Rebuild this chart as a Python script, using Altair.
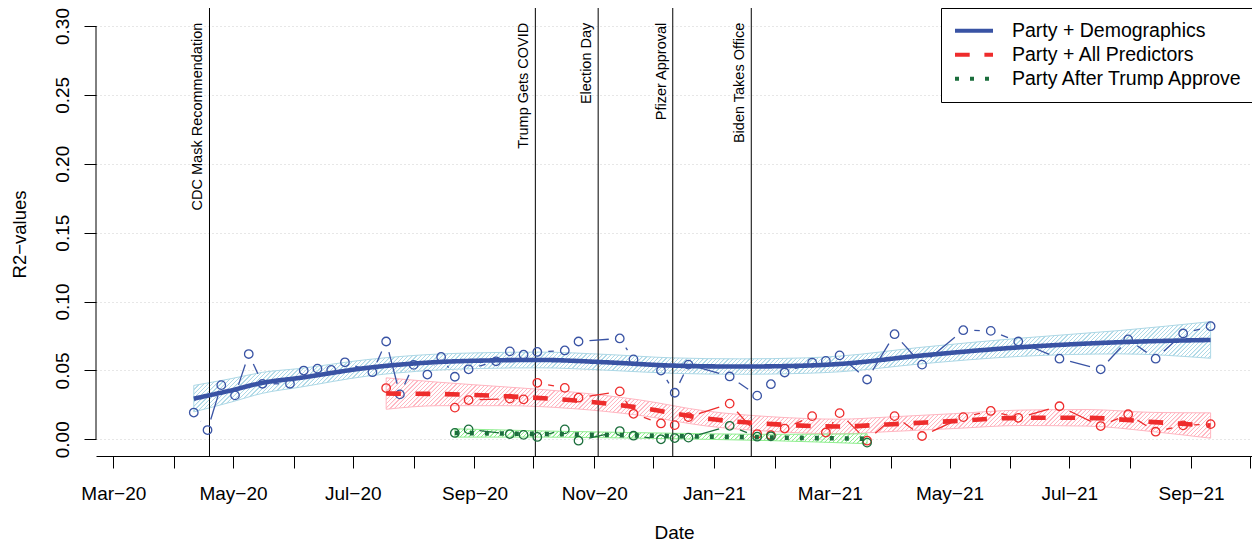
import math
import altair as alt
import pandas as pd

# ---------------- data ----------------
SERIES = ["Party + Demographics", "Party + All Predictors", "Party After Trump Approve"]

BLUE_DATES = [
    "2020-04-11", "2020-04-18", "2020-04-25", "2020-05-02", "2020-05-09", "2020-05-16",
    "2020-05-30", "2020-06-06", "2020-06-13", "2020-06-20", "2020-06-27", "2020-07-11",
    "2020-07-18", "2020-07-25", "2020-08-01", "2020-08-08", "2020-08-15", "2020-08-22",
    "2020-08-29", "2020-09-12", "2020-09-19", "2020-09-26", "2020-10-03", "2020-10-17",
    "2020-10-24", "2020-11-14", "2020-11-21", "2020-12-05", "2020-12-12", "2020-12-19",
    "2021-01-09", "2021-01-23", "2021-01-30", "2021-02-06", "2021-02-20", "2021-02-27",
    "2021-03-06", "2021-03-20", "2021-04-03", "2021-04-17", "2021-05-08", "2021-05-22",
    "2021-06-05", "2021-06-26", "2021-07-17", "2021-07-31", "2021-08-14", "2021-08-28",
    "2021-09-11",
]
BLUE_VALUES = [
    0.0194, 0.0067, 0.0393, 0.0319, 0.0619, 0.0403,
    0.0403, 0.0499, 0.0513, 0.0504, 0.0559, 0.0487,
    0.0710, 0.0326, 0.0540, 0.0470, 0.0598, 0.0454,
    0.0508, 0.0566, 0.0638, 0.0614, 0.0634, 0.0645,
    0.0710, 0.0732, 0.0580, 0.0499, 0.0338, 0.0542,
    0.0456, 0.0317, 0.0400, 0.0485, 0.0557, 0.0569,
    0.0609, 0.0434, 0.0763, 0.0542, 0.0792, 0.0787,
    0.0710, 0.0585, 0.0508, 0.0725, 0.0585, 0.0768,
    0.0821,
]

RED_DATES = [
    "2020-07-18", "2020-07-25", "2020-08-22", "2020-08-29", "2020-09-19", "2020-09-26",
    "2020-10-03", "2020-10-17", "2020-10-24", "2020-11-14", "2020-11-21", "2020-12-05",
    "2020-12-12", "2020-12-19", "2021-01-09", "2021-01-23", "2021-01-30", "2021-02-06",
    "2021-02-20", "2021-02-27", "2021-03-06", "2021-03-20", "2021-04-03", "2021-04-17",
    "2021-05-08", "2021-05-22", "2021-06-05", "2021-06-26", "2021-07-17", "2021-07-31",
    "2021-08-14", "2021-08-28", "2021-09-11",
]
RED_VALUES = [
    0.0372, None, 0.0230, 0.0285, 0.0295, 0.0290,
    0.0410, 0.0373, 0.0302, 0.0348, 0.0185, 0.0115,
    0.0103, 0.0161, 0.0259, 0.0038, 0.0030, 0.0078,
    0.0168, 0.0049, 0.0190, -0.0010, 0.0168, 0.0024,
    0.0161, 0.0206, 0.0156, 0.0240, 0.0096, 0.0182,
    0.0055, 0.0101, 0.0110,
]

GREEN_DATES = [
    "2020-08-22", "2020-08-29", "2020-09-19", "2020-09-26", "2020-10-03", "2020-10-17",
    "2020-10-24", "2020-11-14", "2020-11-21", "2020-12-05", "2020-12-12", "2020-12-19",
    "2021-01-09", "2021-01-23", "2021-01-30", "2021-02-06", "2021-03-20",
]
GREEN_VALUES = [
    0.0046, 0.0072, 0.0038, 0.0032, 0.0017, 0.0072,
    -0.0010, 0.0060, 0.0026, 0.0000, 0.0009, 0.0012,
    0.0098, 0.0019, 0.0022, None, -0.0024,
]

# smoothed trends with half-width of the confidence band
BLUE_TREND_DATES = [
    "2020-04-11", "2020-04-30", "2020-05-16", "2020-06-04", "2020-07-08", "2020-08-11",
    "2020-09-04", "2020-10-04", "2020-11-07", "2020-12-11", "2021-01-14", "2021-02-17",
    "2021-03-06", "2021-04-16", "2021-06-06", "2021-07-27", "2021-09-11",
]
BLUE_TREND = [
    0.0295, 0.0355, 0.0410, 0.0446, 0.0518, 0.0559,
    0.0571, 0.0576, 0.0559, 0.0535, 0.0528, 0.0535,
    0.0547, 0.0607, 0.0668, 0.0705, 0.0721,
]
BLUE_HALF = [
    0.0096, 0.0085, 0.0076, 0.0068, 0.0060, 0.0058,
    0.0057, 0.0057, 0.0057, 0.0056, 0.0056, 0.0056,
    0.0057, 0.0060, 0.0066, 0.0085, 0.0133,
]

RED_TREND_DATES = [
    "2020-07-18", "2020-08-14", "2020-09-17", "2020-10-21", "2020-11-24", "2020-12-28",
    "2021-01-31", "2021-03-06", "2021-03-30", "2021-05-03", "2021-06-06", "2021-07-10",
    "2021-08-13", "2021-09-11",
]
RED_TREND = [
    0.0332, 0.0329, 0.0312, 0.0283, 0.0230, 0.0151,
    0.0110, 0.0093, 0.0108, 0.0132, 0.0156, 0.0156,
    0.0125, 0.0100,
]
RED_HALF = [
    0.0114, 0.0085, 0.0068, 0.0060, 0.0056, 0.0054,
    0.0053, 0.0053, 0.0053, 0.0054, 0.0056, 0.0060,
    0.0070, 0.0092,
]

GREEN_TREND_DATES = ["2020-08-22", "2020-10-07", "2020-11-24", "2020-12-28", "2021-01-31", "2021-03-20"]
GREEN_TREND = [0.0046, 0.0038, 0.0028, 0.0020, 0.0013, 0.0004]
GREEN_HALF = [0.0030, 0.0022, 0.0020, 0.0020, 0.0023, 0.0036]

EVENT_DATES = ["2020-04-19", "2020-10-02", "2020-11-03", "2020-12-11", "2021-01-20"]
EVENT_LABELS = ["CDC Mask Recommendation", "Trump Gets COVID", "Election Day",
                "Pfizer Approval", "Biden Takes Office"]

Y_TICKS = [0.00, 0.05, 0.10, 0.15, 0.20, 0.25, 0.30]
X_TICK_DATES = [d.strftime("%Y-%m-%d") for d in pd.date_range("2020-03-01", "2021-10-01", freq="MS")]

# ---------------- style / layout ----------------
FONT = "Liberation Sans"
PLOT_W, PLOT_H = 1156, 448
BASE = pd.Timestamp("2020-03-01")
X_START = BASE - pd.Timedelta(days=8.813)
X_END = BASE + pd.Timedelta(days=580.08)
Y_MIN, Y_MAX = -0.01212, 0.31306

COLORS = ["#3953A4", "#EE2C2C", "#1B6E3C"]
BAND_COLORS = ["#ADD8E6", "#FFB6C1", "#90EE90"]
DASHES = [[1, 0], [14.7, 14.7], [4, 11]]
SEG_GAP = 11.0


def ms(d):
    return int(pd.Timestamp(d).value // 10**6)


PX_PER_MS = PLOT_W / (ms(X_END) - ms(X_START))
PX_PER_UNIT = PLOT_H / (Y_MAX - Y_MIN)

x_scale = alt.Scale(type="utc", domain=[ms(X_START), ms(X_END)])
y_scale = alt.Scale(domain=[Y_MIN, Y_MAX], nice=False, zero=False)

x_axis = alt.Axis(
    values=[ms(d) for d in X_TICK_DATES],
    labelExpr="utcmonth(datum.value) % 2 == 0 ? utcFormat(datum.value, '%b') + '\u2212' + utcFormat(datum.value, '%y') : ''",
    grid=False, tickSize=12, tickColor="black", tickWidth=1,
    domainColor="black", domainWidth=1,
    labelFontSize=19, labelColor="black", labelFont=FONT,
    labelBaseline="alphabetic", labelPadding=31, labelFlush=False, labelOverlap=False,
    title="Date", titleFontSize=19, titleFontWeight="normal", titleColor="black", titleFont=FONT,
    titleX=PLOT_W / 2, titleY=82, titleBaseline="alphabetic", titleAlign="center",
)
y_axis = alt.Axis(
    values=Y_TICKS, format=".2f", domain=False,
    grid=True, gridDash=[1, 3], gridColor="#cfcfcf", gridWidth=1,
    tickSize=12, tickColor="black", tickWidth=1,
    labelFontSize=19, labelColor="black", labelFont=FONT,
    labelAngle=270, labelAlign="center", labelBaseline="alphabetic", labelPadding=16,
    labelFlush=False, labelOverlap=False,
    title="R2\u2212values", titleFontSize=18.5, titleFontWeight="normal", titleColor="black", titleFont=FONT,
    titleAngle=270, titleX=-71, titleY=226, titleAlign="center", titleBaseline="alphabetic",
)


def X(field):
    return alt.X(field, type="temporal", scale=x_scale, axis=x_axis, title="Date")


def Y(field):
    return alt.Y(field, type="quantitative", scale=y_scale, axis=y_axis, title="R2\u2212values")


def hatch_gradient(color, w_px, h_px, period=4.2, thick=1.0, ramp=0.4):
    r = h_px / w_px
    k = (1 + r) / (1 + r * r)
    total = w_px + h_px
    clear = "rgba(255,255,255,0)"
    stops = []
    p = 0.0
    while p < total:
        a = p / total
        b = min((p + ramp) / total, 1.0)
        c = min((p + ramp + thick) / total, 1.0)
        d = min((p + 2 * ramp + thick) / total, 1.0)
        stops += [(a, clear), (b, color), (c, color), (d, clear)]
        p += period
    return alt.LinearGradient(
        gradient="linear", x1=0, y1=0, x2=k, y2=k * r,
        stops=[alt.GradientStop(offset=round(o, 6), color=col) for o, col in stops],
    )


def points_df(dates, values):
    rows = [{"date": ms(d), "value": v} for d, v in zip(dates, values) if v is not None]
    return pd.DataFrame(rows)


def segments_df(dates, values):
    rows = []
    for i in range(len(dates) - 1):
        v1, v2 = values[i], values[i + 1]
        if v1 is None or v2 is None:
            continue
        t1, t2 = ms(dates[i]), ms(dates[i + 1])
        dx = (t2 - t1) * PX_PER_MS
        dy = (v2 - v1) * PX_PER_UNIT
        L = math.hypot(dx, dy)
        if L <= 2 * SEG_GAP:
            continue
        f = SEG_GAP / L
        rows.append({"x": t1 + (t2 - t1) * f, "x2": t2 - (t2 - t1) * f,
                     "y": v1 + (v2 - v1) * f, "y2": v2 - (v2 - v1) * f})
    return pd.DataFrame(rows)


def trend_df(name, dates, vals, half):
    return pd.DataFrame({
        "series": name,
        "date": [ms(d) for d in dates],
        "value": vals,
        "lower": [v - h for v, h in zip(vals, half)],
        "upper": [v + h for v, h in zip(vals, half)],
    })


trends = [
    trend_df(SERIES[0], BLUE_TREND_DATES, BLUE_TREND, BLUE_HALF),
    trend_df(SERIES[1], RED_TREND_DATES, RED_TREND, RED_HALF),
    trend_df(SERIES[2], GREEN_TREND_DATES, GREEN_TREND, GREEN_HALF),
]
raw = [(BLUE_DATES, BLUE_VALUES), (RED_DATES, RED_VALUES), (GREEN_DATES, GREEN_VALUES)]

layers = []

# confidence bands with hatching
for i, tdf in enumerate(trends):
    w_px = (tdf["date"].max() - tdf["date"].min()) * PX_PER_MS
    h_px = (tdf["upper"].max() - tdf["lower"].min()) * PX_PER_UNIT
    grad = hatch_gradient(BAND_COLORS[i], w_px, h_px)
    layers.append(
        alt.Chart(tdf).mark_area(interpolate="monotone", fill=grad, stroke=BAND_COLORS[i], strokeWidth=1)
        .encode(x=X("date"), y=Y("lower"), y2="upper")
    )

events = pd.DataFrame({"date": [ms(d) for d in EVENT_DATES], "label": EVENT_LABELS})
layers.append(alt.Chart(events).mark_rule(color="black", strokeWidth=1).encode(x=X("date")))

# y axis line (from 0.00 to 0.30 only)
layers.append(
    alt.Chart(pd.DataFrame({"k": [0]})).mark_rule(color="black", strokeWidth=1)
    .encode(x=alt.value(0), y=alt.datum(Y_TICKS[0]), y2=alt.datum(Y_TICKS[-1]))
)

# connecting segments and open circles
for i, (dates, vals) in enumerate(raw):
    seg = segments_df(dates, vals)
    layers.append(
        alt.Chart(seg).mark_rule(color=COLORS[i], strokeWidth=1.3)
        .encode(x=X("x"), x2="x2", y=Y("y"), y2="y2")
    )
    layers.append(
        alt.Chart(points_df(dates, vals)).mark_point(shape="circle", filled=False, size=72,
                                                     strokeWidth=1.3, color=COLORS[i], opacity=1)
        .encode(x=X("date"), y=Y("value"))
    )

legend = alt.Legend(
    title=None, orient="none", legendX=845, legendY=0, direction="vertical",
    symbolType="stroke", symbolSize=1444, symbolStrokeWidth=4,
    labelFontSize=19.5, labelFont=FONT, labelColor="black", labelLimit=400, labelOffset=17,
    padding=12, rowPadding=2, clipHeight=21.7,
    strokeColor="black", fillColor="white",
)
trend_all = pd.concat(trends, ignore_index=True)
layers.append(
    alt.Chart(trend_all).mark_line(strokeWidth=4.6, interpolate="monotone")
    .encode(
        x=X("date"), y=Y("value"),
        color=alt.Color("series:N", scale=alt.Scale(domain=SERIES, range=COLORS), legend=legend),
        strokeDash=alt.StrokeDash("series:N", scale=alt.Scale(domain=SERIES, range=DASHES), legend=legend),
    )
)

layers.append(
    alt.Chart(events).mark_text(angle=270, align="right", baseline="alphabetic", dx=3.3, dy=-7,
                                fontSize=14.5, font=FONT, color="black")
    .encode(x=X("date"), y=alt.datum(Y_TICKS[-1]), text="label")
)

chart = (
    alt.layer(*layers)
    .properties(width=PLOT_W, height=PLOT_H,
                autosize=alt.AutoSizeParams(type="none"),
                padding={"left": 88, "top": 0, "right": 0, "bottom": 88})
    .configure(font=FONT, background="white")
    .configure_view(strokeWidth=0)
)

chart.save("out.html", embed_options={"renderer": "svg", "actions": False})
